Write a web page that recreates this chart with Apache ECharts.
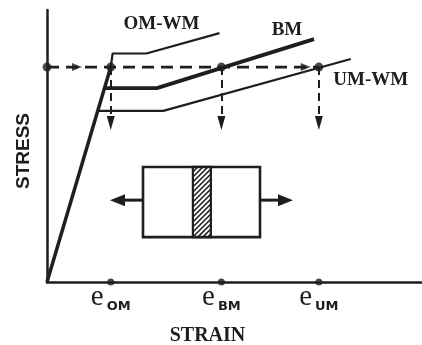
<!DOCTYPE html>
<html>
<head>
<meta charset="utf-8">
<script src="https://cdn.jsdelivr.net/npm/echarts@6/dist/echarts.min.js"></script>
<style>
  html, body { margin: 0; padding: 0; background: #fff; }
  #chart { width: 422px; height: 345px; }
</style>
</head>
<body>
<div id="chart"></div>
<script>
// Strain positions of the characteristic strains (e_OM, e_BM, e_UM)
const strainTicks = [17, 46.5, 72.5];
const tickLabels = ['OM', 'BM', 'UM'];
// Common stress level reached by all three curves
const yieldStress = 79;
// Stress level where the dashed arrows end
const arrowEndStress = 58.5;

// Stress-strain curves (strain, stress)
const elasticLine = [[0, 0], [17, 79]];
const omwmCurve = [[17, 79], [17.5, 84], [26.5, 84], [46, 91.5]];
const bmCurve = [[15.3, 71.3], [29.3, 71.3], [71.2, 89.3]];
const umwmCurve = [[13.5, 62.9], [31, 62.9], [81, 82]];

// Tensile specimen sketch: box edges, weld strip edges, load arrows
const specimenX = [25.6, 38.9, 43.7, 56.8];
const specimenY = [16.5, 42.3];
const loadArrowX = [16.8, 65.6];
const loadArrowY = 30.1;

const INK = '#1e1e1e';
const SERIF = '"Liberation Serif", "DejaVu Serif", serif';
const SANS = '"Liberation Sans", Arial, sans-serif';
const WIDE_SANS = '"DejaVu Sans", "Liberation Sans", sans-serif';

const chart = echarts.init(document.getElementById('chart'), null, { renderer: 'canvas' });

function renderSpecimen(params, api) {
  const tl = api.coord([specimenX[0], specimenY[1]]);
  const br = api.coord([specimenX[3], specimenY[0]]);
  const wl = api.coord([specimenX[1], specimenY[1]])[0];
  const wr = api.coord([specimenX[2], specimenY[1]])[0];
  const children = [];
  // hatch lines inside the weld strip
  const x0 = wl, x1 = wr, y0 = tl[1], y1 = br[1];
  for (let c = x0 + y0; c <= x1 + y1; c += 5) {
    const xa = Math.max(x0, c - y1), xb = Math.min(x1, c - y0);
    if (xb <= xa) continue;
    children.push({ type: 'line', shape: { x1: xa, y1: c - xa, x2: xb, y2: c - xb },
      style: { stroke: INK, lineWidth: 1.6 } });
  }
  children.push({ type: 'rect', shape: { x: wl, y: tl[1], width: wr - wl, height: br[1] - tl[1] },
    style: { fill: 'none', stroke: INK, lineWidth: 2.2 } });
  children.push({ type: 'rect', shape: { x: tl[0], y: tl[1], width: br[0] - tl[0], height: br[1] - tl[1] },
    style: { fill: 'none', stroke: INK, lineWidth: 2.6 } });
  // load arrows
  const ay = api.coord([0, loadArrowY])[1];
  const lt = api.coord([loadArrowX[0], loadArrowY])[0];
  const rt = api.coord([loadArrowX[1], loadArrowY])[0];
  const head = 15, half = 6;
  children.push({ type: 'line', shape: { x1: tl[0], y1: ay, x2: lt + head - 2, y2: ay }, style: { stroke: INK, lineWidth: 3 } });
  children.push({ type: 'polygon', shape: { points: [[lt, ay], [lt + head, ay - half], [lt + head, ay + half]] }, style: { fill: INK } });
  children.push({ type: 'line', shape: { x1: br[0], y1: ay, x2: rt - head + 2, y2: ay }, style: { stroke: INK, lineWidth: 3 } });
  children.push({ type: 'polygon', shape: { points: [[rt, ay], [rt - head, ay - half], [rt - head, ay + half]] }, style: { fill: INK } });
  return { type: 'group', children };
}

const curveLabel = {
  show: true, distance: 0, align: 'center', verticalAlign: 'middle',
  fontFamily: SERIF, fontSize: 19, fontWeight: 'bold', color: INK
};

chart.setOption({
  animation: false,
  backgroundColor: '#fff',
  grid: { left: 47, right: 0, top: 10, bottom: 63, outerBoundsMode: 'none', containLabel: false },
  xAxis: {
    type: 'value', min: 0, max: 100,
    splitLine: { show: false },
    axisTick: { show: false },
    axisLine: { lineStyle: { color: INK, width: 2.5 } },
    axisLabel: {
      customValues: strainTicks,
      margin: 1,
      formatter: v => '{e|e}{s|' + tickLabels[strainTicks.indexOf(v)] + '}',
      rich: {
        e: { fontFamily: SERIF, fontSize: 29, color: INK, verticalAlign: 'bottom', padding: [0, 0, 7, 0] },
        s: { fontFamily: WIDE_SANS, fontSize: 13, fontWeight: 'bold', color: INK, verticalAlign: 'bottom', padding: [0, 0, 6, 3] }
      }
    },
    name: 'STRAIN', nameLocation: 'middle', nameGap: 44,
    nameTextStyle: { fontFamily: SERIF, fontSize: 20, fontWeight: 'bold', color: INK, padding: [0, 54, 0, 0] }
  },
  yAxis: {
    type: 'value', min: 0, max: 100,
    splitLine: { show: false },
    axisTick: { show: false },
    axisLabel: { show: false },
    axisLine: { lineStyle: { color: INK, width: 2.5 } },
    name: 'STRESS', nameLocation: 'middle', nameGap: 14, nameRotate: 90,
    nameTextStyle: { fontFamily: SANS, fontSize: 19, fontWeight: 'bold', color: INK, padding: [0, 10, 0, 0] }
  },
  series: [
    {
      name: 'elastic', type: 'line', data: elasticLine, symbol: 'none',
      lineStyle: { color: INK, width: 3.5 }
    },
    {
      name: 'OM-WM', type: 'line', data: omwmCurve, symbol: 'none',
      lineStyle: { color: INK, width: 2.2 },
      endLabel: Object.assign({}, curveLabel, { formatter: 'OM-WM', offset: [-58, -9] })
    },
    {
      name: 'BM', type: 'line', data: bmCurve, symbol: 'none',
      lineStyle: { color: INK, width: 3.8 },
      endLabel: Object.assign({}, curveLabel, { formatter: 'BM', offset: [-27, -9] })
    },
    {
      name: 'UM-WM', type: 'line', data: umwmCurve, symbol: 'none',
      lineStyle: { color: INK, width: 2.2 },
      endLabel: Object.assign({}, curveLabel, { formatter: 'UM-WM', offset: [20, 21] })
    },
    {
      name: 'yield level', type: 'line', symbol: 'none',
      data: [[0, yieldStress], [strainTicks[2], yieldStress]],
      lineStyle: { color: INK, width: 2.6, type: [12, 7] },
      markLine: {
        silent: true, animation: false,
        label: { show: false },
        lineStyle: { color: INK, width: 2, type: [8, 5] },
        data: strainTicks.map(v => [
          { coord: [v, yieldStress], symbol: 'none' },
          { coord: [v, arrowEndStress], symbol: 'triangle', symbolSize: [8, 14] }
        ])
      }
    },
    {
      name: 'yield arrows', type: 'scatter', symbol: 'triangle', symbolSize: [8, 10], symbolRotate: -90,
      data: [[8, yieldStress], [69, yieldStress]],
      itemStyle: { color: INK }, clip: false
    },
    {
      name: 'yield points', type: 'scatter', symbol: 'circle', symbolSize: 9,
      data: [[0, yieldStress]].concat(strainTicks.map(v => [v, yieldStress])),
      itemStyle: { color: INK }, clip: false
    },
    {
      name: 'strain marks', type: 'scatter', symbol: 'circle', symbolSize: 7,
      data: strainTicks.map(v => [v, 0]),
      itemStyle: { color: INK }, clip: false
    },
    {
      name: 'specimen', type: 'custom', renderItem: renderSpecimen,
      data: [[specimenX[0], specimenY[0]]], clip: false, silent: true
    }
  ]
});
</script>
</body>
</html>
